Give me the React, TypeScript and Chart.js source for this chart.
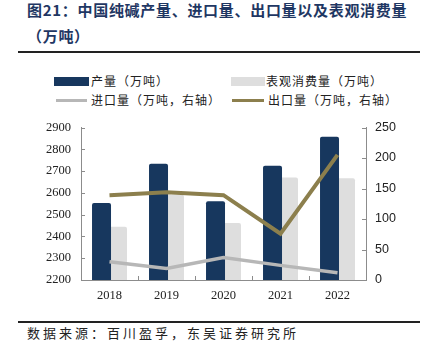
import React, { useEffect, useRef } from "react";
import { Chart, registerables } from "chart.js";

Chart.register(...registerables);

const categories = ["2018", "2019", "2020", "2021", "2022"];
const production = [2553, 2734, 2562, 2724, 2858];
const consumption = [2445, 2591, 2462, 2671, 2667];
const imports = [30, 19, 37, 24, 12];
const exports = [139, 144, 139, 76, 205];

const leftTicks = [2200, 2300, 2400, 2500, 2600, 2700, 2800, 2900];
const rightTicks = [0, 50, 100, 150, 200, 250];

const DARK = "#17375e";
const LIGHT = "#dedede";
const GOLD = "#8c7f4d";
const GRAY = "#b7b7b7";
const AXIS = "#8c8c8c";

const inwardTicks = {
  id: "inwardTicks",
  afterDraw(chart: any) {
    const ctx = chart.ctx;
    const a = chart.chartArea;
    const yL = chart.scales.y;
    const yR = chart.scales.y1;
    const x = chart.scales.x;
    ctx.save();
    ctx.strokeStyle = AXIS;
    ctx.lineWidth = 1;
    ctx.beginPath();
    leftTicks.forEach((v) => {
      const py = Math.round(yL.getPixelForValue(v)) + 0.5;
      ctx.moveTo(a.left, py);
      ctx.lineTo(a.left + 4, py);
    });
    rightTicks.forEach((v) => {
      const py = Math.round(yR.getPixelForValue(v)) + 0.5;
      ctx.moveTo(a.right, py);
      ctx.lineTo(a.right - 4, py);
    });
    const step = x.getPixelForValue(1) - x.getPixelForValue(0);
    for (let i = 1; i < categories.length; i++) {
      const px = Math.round(x.getPixelForValue(i) - step / 2) + 0.5;
      ctx.moveTo(px, a.bottom);
      ctx.lineTo(px, a.bottom - 4);
    }
    ctx.stroke();
    ctx.restore();
  },
};

export default function App() {
  const ref = useRef<HTMLCanvasElement>(null);
  useEffect(() => {
    if (!ref.current) return;
    const chart = new Chart(ref.current, {
      type: "bar",
      data: {
        labels: categories,
        datasets: [
          {
            type: "line",
            label: "出口量（万吨，右轴）",
            data: exports,
            yAxisID: "y1",
            borderColor: GOLD,
            backgroundColor: GOLD,
            borderWidth: 4,
            pointRadius: 0,
            tension: 0,
            order: 1,
          } as any,
          {
            type: "line",
            label: "进口量（万吨，右轴）",
            data: imports,
            yAxisID: "y1",
            borderColor: GRAY,
            backgroundColor: GRAY,
            borderWidth: 3.5,
            pointRadius: 0,
            tension: 0,
            order: 2,
          } as any,
          {
            type: "bar",
            label: "产量（万吨）",
            data: production,
            yAxisID: "y",
            backgroundColor: DARK,
            borderRadius: 2,
            categoryPercentage: 0.56,
            barPercentage: 1.19,
            order: 3,
          } as any,
          {
            type: "bar",
            label: "表观消费量（万吨）",
            data: consumption,
            yAxisID: "y",
            backgroundColor: LIGHT,
            borderRadius: 2,
            categoryPercentage: 0.56,
            barPercentage: 1.19,
            order: 4,
          } as any,
        ],
      },
      options: {
        animation: false,
        responsive: false,
        maintainAspectRatio: false,
        layout: { padding: { top: 10, left: 0, right: 0, bottom: 0 } },
        plugins: { legend: { display: false }, tooltip: { enabled: false } },
        scales: {
          x: {
            offset: true,
            grid: { display: false, drawTicks: false },
            border: { display: true, color: AXIS, width: 1 },
            ticks: {
              padding: 8,
              color: "#222",
              font: { family: "Liberation Serif", size: 12.5 },
            },
            afterFit(s: any) {
              s.height = 30;
            },
          },
          y: {
            position: "left",
            min: 2200,
            max: 2900,
            grid: { display: false, drawTicks: false },
            border: { display: true, color: AXIS, width: 1 },
            ticks: {
              stepSize: 100,
              padding: 10,
              color: "#222",
              font: { family: "Liberation Serif", size: 12.5 },
              callback: (v: any) => String(v),
            },
            afterFit(s: any) {
              s.width = 81;
            },
          },
          y1: {
            position: "right",
            min: 0,
            max: 250,
            grid: { display: false, drawTicks: false },
            border: { display: true, color: AXIS, width: 1 },
            ticks: {
              stepSize: 50,
              padding: 9,
              color: "#222",
              font: { family: "Liberation Sans", size: 12.5 },
              callback: (v: any) => String(v),
            },
            afterFit(s: any) {
              s.width = 55;
            },
          },
        },
      } as any,
      plugins: [inwardTicks],
    });
    return () => chart.destroy();
  }, []);

  const cjk = '"Noto Sans CJK SC", sans-serif';
  const legendText: React.CSSProperties = {
    position: "absolute",
    fontFamily: cjk,
    fontSize: 12,
    letterSpacing: 1,
    color: "#222",
    lineHeight: "14px",
    whiteSpace: "nowrap",
  };
  const titleStyle: React.CSSProperties = {
    position: "absolute",
    left: 27,
    fontFamily: cjk,
    fontWeight: 700,
    fontSize: 15,
    letterSpacing: 0.7,
    color: "#1f3763",
    whiteSpace: "nowrap",
    lineHeight: "18px",
  };

  return (
    <div
      style={{
        position: "absolute",
        left: 0,
        top: 0,
        width: 421,
        height: 358,
        background: "#fff",
        overflow: "hidden",
      }}
    >
      <div style={{ ...titleStyle, top: 1 }}>图21：中国纯碱产量、进口量、出口量以及表观消费量</div>
      <div style={{ ...titleStyle, top: 27 }}>（万吨）</div>
      <div style={{ position: "absolute", left: 18, top: 51, width: 402, height: 2, background: "#222" }} />

      <div style={{ position: "absolute", left: 54, top: 77, width: 35, height: 9, background: DARK }} />
      <div style={{ ...legendText, left: 91, top: 74 }}>产量（万吨）</div>
      <div style={{ position: "absolute", left: 231, top: 77, width: 34, height: 9, background: LIGHT }} />
      <div style={{ ...legendText, left: 266, top: 74 }}>表观消费量（万吨）</div>
      <div style={{ position: "absolute", left: 56, top: 99, width: 31, height: 3, background: GRAY }} />
      <div style={{ ...legendText, left: 91, top: 93 }}>进口量（万吨，右轴）</div>
      <div style={{ position: "absolute", left: 232, top: 99, width: 32, height: 3, background: GOLD }} />
      <div style={{ ...legendText, left: 268, top: 93 }}>出口量（万吨，右轴）</div>

      <canvas
        ref={ref}
        width={421}
        height={200}
        style={{ position: "absolute", left: 0, top: 110, width: 421, height: 200 }}
      />

      <div style={{ position: "absolute", left: 18, top: 321, width: 402, height: 2, background: "#222" }} />
      <div
        style={{
          position: "absolute",
          left: 27,
          top: 325,
          fontFamily: cjk,
          fontSize: 13,
          letterSpacing: 3,
          color: "#222",
          whiteSpace: "nowrap",
          lineHeight: "16px",
        }}
      >
        数据来源：百川盈孚，东吴证券研究所
      </div>
    </div>
  );
}
